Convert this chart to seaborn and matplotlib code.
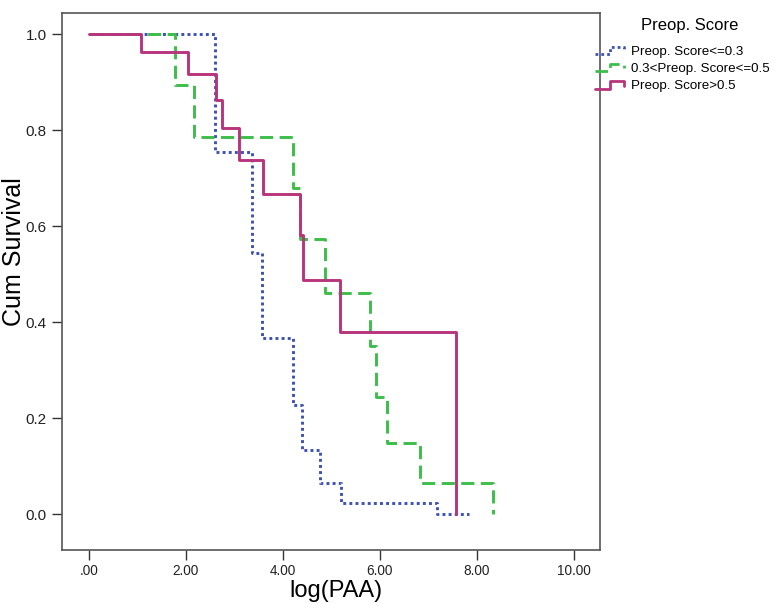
import matplotlib
matplotlib.use("Agg")
import matplotlib.pyplot as plt
from matplotlib.lines import Line2D
from matplotlib.legend_handler import HandlerBase
import seaborn as sns
import pandas as pd

# Kaplan-Meier step points (time, cum survival)
t_low = [0, 2.60, 3.36, 3.56, 4.20, 4.39, 4.76, 5.20, 7.17, 7.84]
s_low = [1.0, 0.754, 0.543, 0.367, 0.227, 0.133, 0.065, 0.023, 0.0, 0.0]

t_mid = [0, 1.77, 2.16, 4.20, 4.35, 4.87, 5.79, 5.93, 6.14, 6.82, 8.33]
s_mid = [1.0, 0.894, 0.785, 0.679, 0.573, 0.46, 0.35, 0.244, 0.148, 0.065, 0.0]

t_high = [0, 1.07, 2.04, 2.62, 2.75, 3.09, 3.59, 4.35, 4.41, 5.18, 7.57]
s_high = [1.0, 0.962, 0.917, 0.862, 0.804, 0.737, 0.667, 0.581, 0.4875, 0.379, 0.0]

groups = ["Preop. Score<=0.3", "0.3<Preop. Score<=0.5", "Preop. Score>0.5"]
colors = ["#3c50b8", "#3cbe4a", "#b8347c"]
x_ticks = [0, 2, 4, 6, 8, 10]
x_ticklabels = [".00", "2.00", "4.00", "6.00", "8.00", "10.00"]
y_ticks = [0.0, 0.2, 0.4, 0.6, 0.8, 1.0]

df = pd.concat([
    pd.DataFrame({"t": t_low, "s": s_low, "grp": groups[0]}),
    pd.DataFrame({"t": t_mid, "s": s_mid, "grp": groups[1]}),
    pd.DataFrame({"t": t_high, "s": s_high, "grp": groups[2]}),
], ignore_index=True)

sns.set_style("white")
plt.rcParams["font.family"] = ["Liberation Sans", "DejaVu Sans"]
plt.rcParams["text.color"] = "black"

dash_map = {groups[0]: (1, 1.1), groups[1]: (4.5, 2.2), groups[2]: ""}
pal = dict(zip(groups, colors))

fig = plt.figure(figsize=(7.77, 6.04), dpi=100)
ax = fig.add_axes([62 / 777, 54 / 604, 538 / 777, 537 / 604])

sns.lineplot(data=df, x="t", y="s", hue="grp", style="grp", palette=pal,
             dashes=dash_map, estimator=None, sort=False, units="grp",
             drawstyle="steps-post", lw=2.1, legend=False, ax=ax)

ax.set_xlim(-0.557, 10.54)
ax.set_ylim(-0.075, 1.044)
ax.set_xticks(x_ticks)
ax.set_xticklabels(x_ticklabels, fontsize=9.8)
ax.set_yticks(y_ticks)
ax.set_yticklabels(["%.1f" % v for v in y_ticks], fontsize=11)
ax.tick_params(axis="both", direction="out", length=7, width=1, color="#333333",
               labelcolor="#222222", bottom=True, left=True, pad=4)
ax.tick_params(axis="x", pad=3)
for sp in ax.spines.values():
    sp.set_color("#555555")
    sp.set_linewidth(1.2)

ax.set_xlabel("log(PAA)", fontsize=17, color="black")
ax.xaxis.set_label_coords(0.509, -0.056)
ax.set_ylabel("Cum Survival", fontsize=18, color="black")
ax.yaxis.set_label_coords(-0.066, 0.555)


class StepHandler(HandlerBase):
    def create_artists(self, legend, orig_handle, xdescent, ydescent,
                       width, height, fontsize, trans):
        xs = [0, 0.45, 0.45, 0.85, 0.85]
        ys = [0.05, 0.05, 0.85, 0.85, 0.4]
        line = Line2D([-xdescent + width * x for x in xs],
                      [-ydescent + height * y for y in ys])
        line.update_from(orig_handle)
        line.set_transform(trans)
        return [line]


handles = []
for g, c in zip(groups, colors):
    ls = (0, dash_map[g]) if dash_map[g] else "-"
    handles.append(Line2D([0], [0], color=c, lw=2.0, linestyle=ls))

leg = fig.legend(handles, groups, title="Preop. Score", loc="upper left",
                 bbox_to_anchor=(592 / 777, 1 - 15 / 604), frameon=False,
                 handler_map={Line2D: StepHandler()},
                 prop={"size": 9.6},
                 title_fontproperties={"size": 12},
                 handlelength=2.6, handletextpad=0.1, labelspacing=0.38,
                 borderpad=0.2, borderaxespad=0)
leg._legend_box.align = "center"
leg._legend_box.sep = 9
leg.get_title().set_position((8, 0))
for txt in leg.get_texts():
    txt.set_color("black")

fig.savefig("out.png", dpi=100)
